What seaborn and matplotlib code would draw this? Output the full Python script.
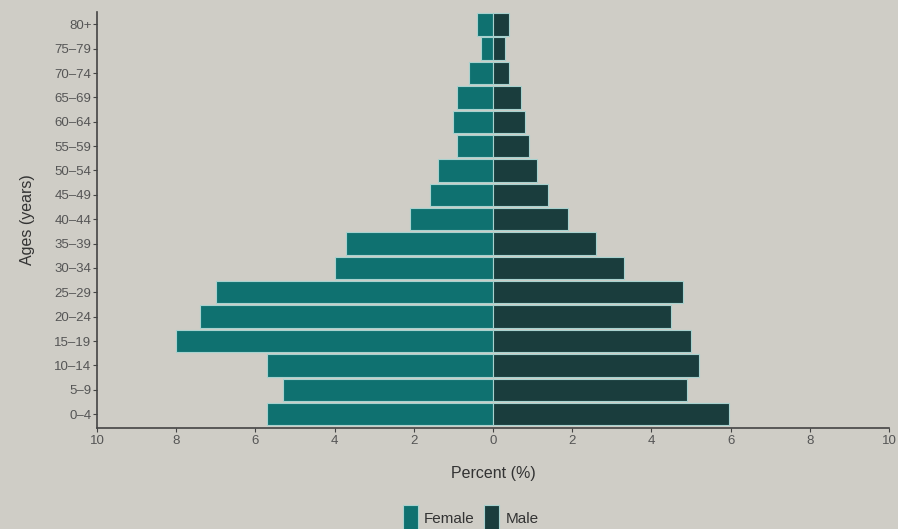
import numpy as np
import pandas as pd
import matplotlib.pyplot as plt
import seaborn as sns

ages = ["80+", "75–79", "70–74", "65–69", "60–64", "55–59", "50–54", "45–49",
        "40–44", "35–39", "30–34", "25–29", "20–24", "15–19", "10–14", "5–9", "0–4"]
female = [0.4, 0.3, 0.6, 0.9, 1.0, 0.9, 1.4, 1.6, 2.1, 3.7, 4.0, 7.0, 7.4, 8.0, 5.7, 5.3, 5.7]
male = [0.4, 0.3, 0.4, 0.7, 0.8, 0.9, 1.1, 1.4, 1.9, 2.6, 3.3, 4.8, 4.5, 5.0, 5.2, 4.9, 5.95]
tick_vals = [-10, -8, -6, -4, -2, 0, 2, 4, 6, 8, 10]

bg = "#cfcdc6"
colors = {"Female": "#0f7170", "Male": "#1a3d3d"}
label_font = ["Liberation Sans", "DejaVu Sans"]

df = pd.DataFrame({
    "age": ages * 2,
    "percent": [-v for v in female] + male,
    "sex": ["Female"] * len(ages) + ["Male"] * len(ages),
})

sns.set_style("ticks")
plt.rcParams["font.family"] = label_font

fig = plt.figure(figsize=(8.98, 5.29), dpi=100, facecolor=bg)
ax = fig.add_axes([0.108, 0.191, 0.882, 0.786])
ax.set_facecolor(bg)

sns.barplot(data=df, x="percent", y="age", hue="sex", order=ages,
            hue_order=["Female", "Male"], palette=colors, dodge=False,
            saturation=1, orient="h", width=0.92, edgecolor="#a8d2cf",
            linewidth=0.8, ax=ax)

ax.set_xlim(-10, 10)
ax.set_ylim(16.57, -0.5)
ax.set_xticks(tick_vals)
ax.set_xticklabels([str(abs(v)) for v in tick_vals])
ax.tick_params(axis="both", colors="#444444", labelcolor="#555555",
               labelsize=9.5, length=3, width=0.8, direction="out")
ax.tick_params(axis="x", pad=2)
ax.tick_params(axis="y", pad=1)

for side in ["top", "right"]:
    ax.spines[side].set_visible(False)
for side in ["left", "bottom"]:
    ax.spines[side].set_color("#444444")
    ax.spines[side].set_linewidth(1.2)

ax.set_xlabel("Percent (%)", fontsize=11.5, color="#333333", labelpad=14)
ax.set_ylabel("Ages (years)", fontsize=11.5, color="#333333", labelpad=14)

handles, labels = ax.get_legend_handles_labels()
ax.get_legend().remove()
fig.legend(handles, labels, loc="lower center", bbox_to_anchor=(0.524, -0.028),
           ncol=2, frameon=False, fontsize=11, handlelength=1.0,
           handleheight=2.1, handletextpad=0.4, columnspacing=0.6,
           labelcolor="#333333")

fig.savefig("out.png", dpi=100, facecolor=bg)
